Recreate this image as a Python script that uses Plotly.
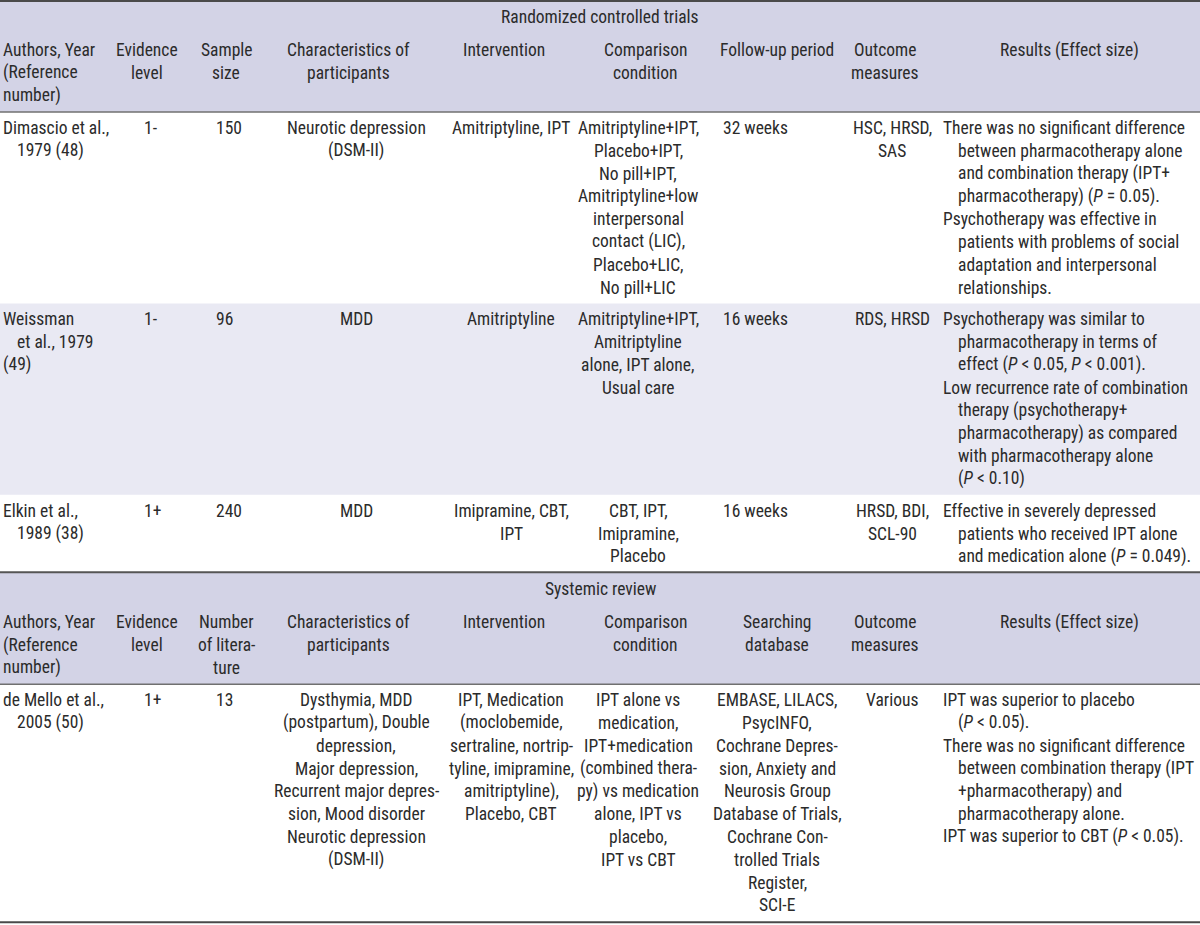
import plotly.graph_objects as go

# ---------------- data ----------------
rct_title = "Randomized controlled trials"
rct_headers = [
    ["Authors, Year", "(Reference", "number)"],
    ["Evidence", "level"],
    ["Sample", "size"],
    ["Characteristics of", "participants"],
    ["Intervention"],
    ["Comparison", "condition"],
    ["Follow-up period"],
    ["Outcome", "measures"],
    ["Results (Effect size)"],
]
rct_authors = [
    [["Dimascio et al.,", "1979 (48)"]],
    [["Weissman", "et al., 1979"], ["(49)"]],
    [["Elkin et al.,", "1989 (38)"]],
]
rct_evidence = ["1-", "1-", "1+"]
rct_sample = ["150", "96", "240"]
rct_participants = [["Neurotic depression", "(DSM-II)"], ["MDD"], ["MDD"]]
rct_intervention = [["Amitriptyline, IPT"], ["Amitriptyline"], ["Imipramine, CBT,", "IPT"]]
rct_comparison = [
    ["Amitriptyline+IPT,", "Placebo+IPT,", "No pill+IPT,", "Amitriptyline+low",
     "interpersonal", "contact (LIC),", "Placebo+LIC,", "No pill+LIC"],
    ["Amitriptyline+IPT,", "Amitriptyline", "alone, IPT alone,", "Usual care"],
    ["CBT, IPT,", "Imipramine,", "Placebo"],
]
rct_followup = ["32 weeks", "16 weeks", "16 weeks"]
rct_outcome = [["HSC, HRSD,", "SAS"], ["RDS, HRSD"], ["HRSD, BDI,", "SCL-90"]]
rct_results = [
    [["There was no significant difference", "between pharmacotherapy alone",
      "and combination therapy (IPT+", "pharmacotherapy) (<i>P</i> = 0.05)."],
     ["Psychotherapy was effective in", "patients with problems of social",
      "adaptation and interpersonal", "relationships."]],
    [["Psychotherapy was similar to", "pharmacotherapy in terms of",
      "effect (<i>P</i> &lt; 0.05, <i>P</i> &lt; 0.001)."],
     ["Low recurrence rate of combination", "therapy (psychotherapy+",
      "pharmacotherapy) as compared", "with pharmacotherapy alone", "(<i>P</i> &lt; 0.10)"]],
    [["Effective in severely depressed", "patients who received IPT alone",
      "and medication alone (<i>P</i> = 0.049)."]],
]

sr_title = "Systemic review"
sr_headers = [
    ["Authors, Year", "(Reference", "number)"],
    ["Evidence", "level"],
    ["Number", "of litera-", "ture"],
    ["Characteristics of", "participants"],
    ["Intervention"],
    ["Comparison", "condition"],
    ["Searching", "database"],
    ["Outcome", "measures"],
    ["Results (Effect size)"],
]
sr_authors = [[["de Mello et al.,", "2005 (50)"]]]
sr_evidence = ["1+"]
sr_number = ["13"]
sr_participants = [["Dysthymia, MDD", "(postpartum), Double", "depression,", "Major depression,",
                    "Recurrent major depres-", "sion, Mood disorder", "Neurotic depression", "(DSM-II)"]]
sr_intervention = [["IPT, Medication", "(moclobemide,", "sertraline, nortrip-",
                    "tyline, imipramine,", "amitriptyline),", "Placebo, CBT"]]
sr_comparison = [["IPT alone vs", "medication,", "IPT+medication", "(combined thera-",
                  "py) vs medication", "alone, IPT vs", "placebo,", "IPT vs CBT"]]
sr_database = [["EMBASE, LILACS,", "PsycINFO,", "Cochrane Depres-", "sion, Anxiety and",
                "Neurosis Group", "Database of Trials,", "Cochrane Con-", "trolled Trials",
                "Register,", "SCI-E"]]
sr_outcome = [["Various"]]
sr_results = [[["IPT was superior to placebo", "(<i>P</i> &lt; 0.05)."],
               ["There was no significant difference", "between combination therapy (IPT",
                "+pharmacotherapy) and", "pharmacotherapy alone."],
               ["IPT was superior to CBT (<i>P</i> &lt; 0.05)."]]]

# ---------------- layout constants ----------------
W, H = 1200, 925
FONT = "Roboto Condensed, DejaVu Sans Condensed, sans-serif"
FS = 17.5
TXT = "#2b2b2b"
HEAD_BG = "#d3d3e6"
ALT_BG = "#e9e9f3"
LH = 22.8
PAD = 9
HEAD_H = 112

H_X = [(1, "left"), (147, "center"), (226, "center"), (348, "center"), (504, "center"),
       (645, "center"), (777, "center"), (885, "center"), (1069, "center")]
AUTH_X, AUTH_IND = 1, 15
EVID_X = 142
SAMP_X = 214
PART_X = 356
INTV_X = 511
COMP_X = 638
FOLL_X = 755
DB_X = 777
OUTC_X = 892
RES_X, RES_IND = 941, 956

fig = go.Figure()
shapes = []
annos = []


def text(x, y, s, anchor="center"):
    annos.append(dict(x=x, y=y, xref="x", yref="y", text=s, showarrow=False,
                      xanchor=anchor, yanchor="middle",
                      font=dict(family=FONT, size=FS, color=TXT)))


def rect(y0, y1, color):
    shapes.append(dict(type="rect", xref="x", yref="y", x0=0, x1=W, y0=y0, y1=y1,
                       fillcolor=color, line=dict(width=0), layer="below"))


def hline(y, width, color):
    shapes.append(dict(type="line", xref="x", yref="y", x0=0, x1=W, y0=y, y1=y,
                       line=dict(width=width, color=color)))


def lines_at(x, y0, lines, anchor="center"):
    for i, s in enumerate(lines):
        text(x, y0 + i * LH, s, anchor)


def hanging(x, xind, y0, paragraphs):
    k = 0
    for para in paragraphs:
        for j, s in enumerate(para):
            text(x if j == 0 else xind, y0 + k * LH, s, "left")
            k += 1
    return k


def header(top, title, headers):
    bottom = top + HEAD_H
    rect(top, bottom, HEAD_BG)
    text(600, top + 17, title)
    for (x, anc), hl in zip(H_X, headers):
        lines_at(x, top + 50, hl, anc)
    return bottom


def nlines(*cells):
    n = 0
    for c in cells:
        if isinstance(c, str):
            n = max(n, 1)
        elif c and isinstance(c[0], list):
            n = max(n, sum(len(p) for p in c))
        else:
            n = max(n, len(c))
    return n


def body(top, authors, evid, samp, part, intv, comp, col7, outc, res, col7_x, shade):
    y = top
    for i in range(len(evid)):
        n = nlines(authors[i], part[i], intv[i], comp[i], col7[i], outc[i], res[i])
        h = n * LH + PAD
        if shade and i % 2 == 1:
            rect(y, y + h, ALT_BG)
        y0 = y + 4.5 + LH / 2
        hanging(AUTH_X, AUTH_IND, y0, authors[i])
        text(EVID_X, y0, evid[i], "left")
        text(SAMP_X, y0, samp[i], "left")
        lines_at(PART_X, y0, part[i])
        lines_at(INTV_X, y0, intv[i])
        lines_at(COMP_X, y0, comp[i])
        c7 = [col7[i]] if isinstance(col7[i], str) else col7[i]
        lines_at(col7_x, y0, c7)
        lines_at(OUTC_X, y0, outc[i])
        hanging(RES_X, RES_IND, y0, res[i])
        y += h
    return y


y = header(0, rct_title, rct_headers)
hline(y, 1.5, "#707070")
y = body(y, rct_authors, rct_evidence, rct_sample, rct_participants, rct_intervention,
         rct_comparison, rct_followup, rct_outcome, rct_results, FOLL_X, True)
y2 = header(y, sr_title, sr_headers)
hline(y, 2, "#555555")
hline(y2, 1.5, "#707070")
y3 = body(y2, sr_authors, sr_evidence, sr_number, sr_participants, sr_intervention,
          sr_comparison, sr_database, sr_outcome, sr_results, DB_X, False)
hline(1, 2, "#4a4a4a")
hline(min(y3 + 1, H - 1.5), 2, "#4a4a4a")

fig.update_layout(
    width=W, height=H, margin=dict(l=0, r=0, t=0, b=0),
    paper_bgcolor="white", plot_bgcolor="white",
    xaxis=dict(range=[0, W], visible=False, fixedrange=True),
    yaxis=dict(range=[H, 0], visible=False, fixedrange=True),
    shapes=shapes, annotations=annos, showlegend=False,
)
fig.write_html("out.html", config={"displayModeBar": False},
               post_script="document.body.style.margin='0';")
